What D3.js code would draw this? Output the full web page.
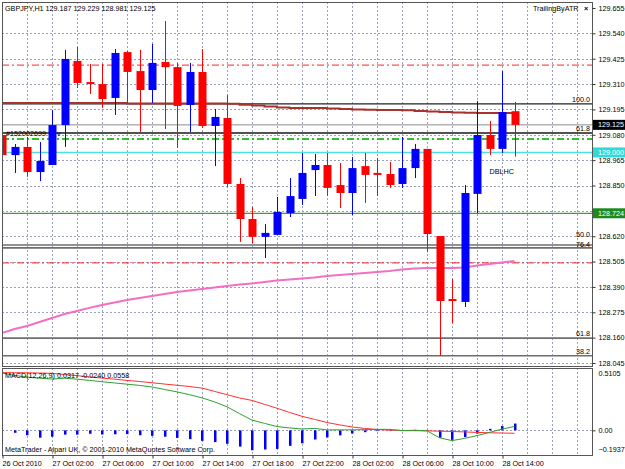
<!DOCTYPE html>
<html>
<head>
<meta charset="utf-8">
<script src="https://cdn.jsdelivr.net/npm/d3@7"></script>
<style>
  html, body { margin: 0; padding: 0; background: #fff; }
  svg text { font-family: "Liberation Sans", Arial, sans-serif; font-size: 7.2px; fill: #000; }
</style>
</head>
<body>
<svg id="chart" width="625" height="469"></svg>
<script>
// Chart data
const symbolTitle = "GBPJPY,H1";
const lastOHLC = ["129.187", "129.229", "128.981", "129.125"];

const opens = [129.079, 128.988, 129.025, 128.911, 128.943, 129.124, 129.415, 129.319, 129.310, 129.247,
  129.455, 129.369, 129.283, 129.410, 129.387, 129.215, 129.365, 129.120, 129.156, 128.857,
  128.698, 128.617, 128.626, 128.725, 128.789, 128.920, 128.943, 128.852, 128.816, 128.938,
  128.907, 128.902, 128.857, 128.929, 129.016, 128.621, 128.335, 128.322, 128.812, 129.079,
  129.016, 129.187];
const highs = [129.082, 129.038, 129.070, 129.047, 129.192, 129.465, 129.478, 129.401, 129.401, 129.469,
  129.460, 129.465, 129.492, 129.596, 129.406, 129.406, 129.469, 129.197, 129.260, 128.884,
  128.753, 128.675, 128.798, 128.884, 128.997, 128.993, 128.997, 128.952, 128.979, 128.997,
  128.975, 128.957, 129.070, 129.038, 129.016, 128.621, 128.426, 128.852, 129.233, 129.143,
  129.369, 129.229];
const lows = [128.952, 128.907, 128.889, 128.870, 128.943, 129.025, 129.292, 129.265, 129.202, 129.170,
  129.224, 129.093, 129.224, 129.106, 129.020, 129.093, 129.111, 128.938, 128.843, 128.594,
  128.589, 128.521, 128.626, 128.707, 128.762, 128.802, 128.802, 128.748, 128.716, 128.771,
  128.802, 128.839, 128.839, 128.884, 128.548, 128.077, 128.226, 128.299, 128.725, 128.988,
  128.997, 128.981];
const closes = [128.988, 129.025, 128.911, 128.961, 129.124, 129.424, 129.315, 129.310, 129.242, 129.451,
  129.365, 129.283, 129.406, 129.387, 129.211, 129.365, 129.120, 129.161, 128.857, 128.698,
  128.617, 128.635, 128.730, 128.802, 128.907, 128.943, 128.839, 128.816, 128.929, 128.898,
  128.898, 128.852, 128.929, 129.016, 128.630, 128.326, 128.326, 128.816, 129.079, 129.016,
  129.183, 129.125];

// moving averages drawn on the price chart
const maSlow = [129.224, 129.224, 129.224, 129.224, 129.224, 129.224, 129.224, 129.224, 129.224, 129.224,
  129.222, 129.222, 129.222, 129.222, 129.222, 129.222, 129.222, 129.222, 129.221, 129.216,
  129.213, 129.208, 129.204, 129.202, 129.202, 129.201, 129.199, 129.197, 129.195, 129.193,
  129.192, 129.192, 129.191, 129.188, 129.186, 129.183, 129.181, 129.180, 129.179, 129.179,
  129.179, 129.179];
const maPink = [128.181, 128.199, 128.213, 128.231, 128.249, 128.267, 128.281, 128.295, 128.308, 128.319,
  128.331, 128.340, 128.349, 128.358, 128.367, 128.374, 128.381, 128.387, 128.394, 128.401,
  128.406, 128.412, 128.419, 128.424, 128.428, 128.433, 128.440, 128.444, 128.449, 128.453,
  128.458, 128.462, 128.469, 128.474, 128.476, 128.476, 128.476, 128.478, 128.487, 128.494,
  128.501, 128.508];

// MACD(12,26,9)
const macdMain = [0.470, 0.450, 0.436, 0.427, 0.420, 0.427, 0.419, 0.409, 0.398, 0.388,
  0.378, 0.368, 0.355, 0.335, 0.315, 0.292, 0.266, 0.233, 0.193, 0.137,
  0.084, 0.057, 0.031, 0.020, 0.011, 0.016, 0.004, 0.004, 0.004, 0.006,
  0.008, 0.008, -0.002, 0.001, -0.004, -0.061, -0.084, -0.066, -0.043, -0.017,
  0.010, 0.0317];
const macdSignal = [0.473, 0.472, 0.471, 0.469, 0.467, 0.457, 0.448, 0.438, 0.428, 0.419,
  0.409, 0.400, 0.390, 0.379, 0.369, 0.359, 0.346, 0.319, 0.292, 0.265,
  0.245, 0.213, 0.181, 0.147, 0.115, 0.090, 0.064, 0.045, 0.028, 0.016,
  0.007, 0.002, -0.002, -0.003, -0.004, -0.007, -0.009, -0.013, -0.017, -0.020,
  -0.022, -0.024];
const macdHist = [-0.003, -0.020, -0.040, -0.060, -0.052, -0.035, -0.035, -0.028, -0.034, -0.032,
  -0.031, -0.040, -0.045, -0.052, -0.062, -0.072, -0.086, -0.096, -0.110, -0.133,
  -0.163, -0.157, -0.152, -0.127, -0.106, -0.075, -0.058, -0.041, -0.026, -0.015,
  -0.006, -0.003, 0.000, 0.004, -0.003, -0.060, -0.078, -0.055, -0.026, 0.012,
  0.035, 0.0558];
const macdLegend = "MACD(12,26,9) 0.0317 -0.0240 0.0558";

// axes
const priceTicks = [129.655, 129.540, 129.425, 129.310, 129.195, 129.080, 128.965, 128.850,
  128.735, 128.620, 128.505, 128.390, 128.275, 128.160, 128.045];
const hiddenTickLabels = [128.735];   // covered by the 128.724 price box in the reference
const macdTicks = [0.5105, 0, -0.1937];
const timeTickBars = [0, 4, 8, 12, 16, 20, 24, 28, 32, 36, 40];
const timeLabels = ["26 Oct 2010", "27 Oct 02:00", "27 Oct 06:00", "27 Oct 10:00", "27 Oct 14:00",
  "27 Oct 18:00", "27 Oct 22:00", "28 Oct 02:00", "28 Oct 06:00", "28 Oct 10:00", "28 Oct 14:00"];

// horizontal objects on the chart
const fiboPrices = [129.220, 129.088, 128.580, 128.567, 128.158, 128.078];
const fiboLabels = ["100.0", "61.8", "50.0", "76.4", "61.8", "38.2"];
const redLevels = [129.396, 128.499];
const bidPrice = 129.125;
const orderPrice = 129.088;
const orderLabel = "#152002699";
const stopPrice = 129.061;
const cyanPrice = 129.000;
const greenPrice = 128.724;
const noteText = "DBLHC";
const notePos = [39, 128.900];   // bar, price
const indicatorName = "TrailingByATR";
const copyrightText = "MetaTrader - Alpari UK, \u00a9 2001-2010 MetaQuotes Software Corp.";

(function() {
    const svg = d3.select("#chart");

    const left = 2, right = 592;
    const mainTop = 2, mainBottom = 366;
    const macdTop = 368, macdBottom = 455;

    const x = d3.scaleLinear().domain([0, 46]).range([2, 577]);
    const y = d3.scaleLinear().domain([128.045, 129.655]).range([363, 8]);
    const ym = d3.scaleLinear().domain([-0.1937, 0.5105]).range([454, 368]);

    const gridColor = "#9aa0b8";

    // clip paths for each panel
    const defs = svg.append("defs");
    defs.append("clipPath").attr("id", "clipMain")
        .append("rect").attr("x", left).attr("y", mainTop).attr("width", right - left).attr("height", mainBottom - mainTop);
    defs.append("clipPath").attr("id", "clipMacd")
        .append("rect").attr("x", left).attr("y", macdTop).attr("width", right - left).attr("height", macdBottom - macdTop);

    const main = svg.append("g").attr("clip-path", "url(#clipMain)");
    const macd = svg.append("g").attr("clip-path", "url(#clipMacd)");

    // grid
    const gridBars = d3.range(2, 47, 2);
    main.selectAll("line.vg").data(gridBars).join("line")
        .attr("x1", d => Math.round(x(d)) + 0.5).attr("x2", d => Math.round(x(d)) + 0.5)
        .attr("y1", mainTop).attr("y2", mainBottom)
        .attr("stroke", gridColor).attr("stroke-dasharray", "2,2");
    main.selectAll("line.hg").data(priceTicks.slice(1)).join("line")
        .attr("x1", left).attr("x2", right)
        .attr("y1", d => Math.round(y(d)) + 0.5).attr("y2", d => Math.round(y(d)) + 0.5)
        .attr("stroke", gridColor).attr("stroke-dasharray", "2,2");
    macd.selectAll("line.vg").data(gridBars).join("line")
        .attr("x1", d => Math.round(x(d)) + 0.5).attr("x2", d => Math.round(x(d)) + 0.5)
        .attr("y1", macdTop).attr("y2", macdBottom)
        .attr("stroke", gridColor).attr("stroke-dasharray", "2,2");
    macd.append("line")
        .attr("x1", left).attr("x2", right)
        .attr("y1", Math.round(ym(0)) + 0.5).attr("y2", Math.round(ym(0)) + 0.5)
        .attr("stroke", gridColor).attr("stroke-dasharray", "2,2");

    // horizontal objects
    const hline = (p, color, width, dash) => {
        const l = main.append("line")
            .attr("x1", left).attr("x2", right)
            .attr("y1", y(p)).attr("y2", y(p))
            .attr("stroke", color).attr("stroke-width", width);
        if (dash) l.attr("stroke-dasharray", dash);
        return l;
    };
    redLevels.forEach(p => hline(p, "#ff2020", 1, "7,3,2,3"));
    fiboPrices.forEach((p, i) => hline(p, i === 0 ? "#222" : "#6e6e6e", i === 0 ? 1.2 : 1.6));
    hline(bidPrice, "#8c8c8c", 1);
    hline(orderPrice, "#3c3c3c", 1.4);
    hline(stopPrice, "#30c030", 2, "7,3,2,3");
    hline(cyanPrice, "#50e0e0", 1.4);
    hline(greenPrice, "#40a040", 1.2);

    // moving averages
    const maLine = d3.line().x((d, i) => x(i)).y(d => y(d));
    main.append("path").datum(maPink).attr("d", maLine)
        .attr("fill", "none").attr("stroke", "#f46ec4").attr("stroke-width", 2);
    main.append("path").datum(maSlow).attr("d", maLine.curve(d3.curveStepAfter))
        .attr("fill", "none").attr("stroke", "#a8322c").attr("stroke-width", 2);

    // candles
    const bars = d3.range(opens.length);
    const col = i => closes[i] >= opens[i] ? "#0000ff" : "#ff0000";
    main.selectAll("line.wick").data(bars).join("line")
        .attr("x1", i => Math.round(x(i)) + 0.5).attr("x2", i => Math.round(x(i)) + 0.5)
        .attr("y1", i => y(highs[i])).attr("y2", i => y(lows[i]))
        .attr("stroke", col).attr("stroke-width", 1);
    main.selectAll("rect.body").data(bars).join("rect")
        .attr("x", i => Math.round(x(i)) - 3.5).attr("width", 8)
        .attr("y", i => y(Math.max(opens[i], closes[i])))
        .attr("height", i => Math.max(1, Math.abs(y(opens[i]) - y(closes[i]))))
        .attr("fill", col);

    // fibo labels (the 50.0 / 76.4 pair sits very close, so they are stacked)
    main.selectAll("text.fibo").data(fiboPrices).join("text")
        .attr("x", right - 2)
        .attr("y", (d, i) => fiboLabels[i] === "50.0" ? y(d) - 8.5 : (fiboLabels[i] === "76.4" ? y(d) - 0.8 : y(d) - 2))
        .attr("font-size", (d, i) => (fiboLabels[i] === "50.0" || fiboLabels[i] === "76.4") ? "6px" : null)
        .attr("text-anchor", "end").text((d, i) => fiboLabels[i]);

    // order label
    main.append("text").attr("x", 6).attr("y", y(orderPrice) + 2.5).text(orderLabel);
    main.append("text").attr("x", 57).attr("y", y(orderPrice) + 2.5).text("v");

    // note text
    main.append("text").attr("x", x(notePos[0])).attr("y", y(notePos[1]))
        .attr("font-size", "7.5px").text(noteText);

    // header
    svg.append("text").attr("x", 5).attr("y", 10.5)
        .text(symbolTitle + "  " + lastOHLC.join(" "));
    svg.append("text").attr("x", 533).attr("y", 11).text(indicatorName);
    svg.append("text").attr("x", 584).attr("y", 11).attr("font-weight", "bold").text("\u00d7");

    // MACD
    macd.selectAll("rect.hist").data(bars).join("rect")
        .attr("x", i => Math.round(x(i)) - 1).attr("width", 2.5)
        .attr("y", i => Math.min(ym(0), ym(macdHist[i])))
        .attr("height", i => Math.max(0.6, Math.abs(ym(macdHist[i]) - ym(0))))
        .attr("fill", "#0000ff");
    const macdLine = d3.line().x((d, i) => x(i)).y(d => ym(d));
    macd.append("path").datum(macdSignal).attr("d", macdLine)
        .attr("fill", "none").attr("stroke", "#ff3030").attr("stroke-width", 1);
    macd.append("path").datum(macdMain).attr("d", macdLine)
        .attr("fill", "none").attr("stroke", "#30a030").attr("stroke-width", 1);
    svg.append("text").attr("x", 5).attr("y", 378).text(macdLegend);
    svg.append("text").attr("x", 5).attr("y", 452).text(copyrightText);

    // frames
    svg.append("rect").attr("x", left + 0.5).attr("y", mainTop + 0.5)
        .attr("width", right - left).attr("height", mainBottom - mainTop)
        .attr("fill", "none").attr("stroke", "#555");
    svg.append("rect").attr("x", left + 0.5).attr("y", macdTop + 0.5)
        .attr("width", right - left).attr("height", macdBottom - macdTop)
        .attr("fill", "none").attr("stroke", "#555");

    // right price axis
    const yAxis = svg.append("g").attr("transform", "translate(" + (right + 0.5) + ",0)")
        .call(d3.axisRight(y).tickValues(priceTicks)
            .tickFormat(d => hiddenTickLabels.includes(d) ? "" : d3.format(".3f")(d))
            .tickSize(3).tickPadding(3));
    yAxis.select(".domain").remove();
    yAxis.selectAll("text").attr("font-size", null).attr("font-family", null).attr("dy", "0.32em");
    yAxis.selectAll("line").attr("stroke", "#333");

    // price boxes on the axis
    const priceBox = (p, bg, fg) => {
        const g = svg.append("g").attr("transform", "translate(" + (right + 1) + "," + y(p) + ")");
        g.append("rect").attr("x", 0).attr("y", -5).attr("width", 33).attr("height", 10).attr("fill", bg);
        g.append("text").attr("x", 5).attr("y", 2.5).style("fill", fg).text(d3.format(".3f")(p));
    };
    priceBox(cyanPrice, "#30d8d8", "#fff");
    priceBox(greenPrice, "#1e8a1e", "#fff");
    priceBox(bidPrice, "#000", "#fff");

    // right MACD axis
    const mAxis = svg.append("g").attr("transform", "translate(" + (right + 0.5) + ",0)")
        .call(d3.axisRight(ym).tickValues(macdTicks)
            .tickFormat(d => d === 0 ? "0.00" : d3.format(".4f")(d)).tickSize(3).tickPadding(3));
    mAxis.select(".domain").remove();
    mAxis.selectAll("line").attr("stroke", "#333");
    mAxis.selectAll("text").attr("font-size", null).attr("font-family", null)
        .attr("dy", (d, i) => i === 0 ? "1.1em" : (i === 2 ? "-0.4em" : "0.32em"));
    mAxis.selectAll(".tick").filter(d => d !== 0).select("line").remove();

    // bottom time axis
    const tAxis = svg.append("g").attr("transform", "translate(0," + (macdBottom + 0.5) + ")")
        .call(d3.axisBottom(x).tickValues(timeTickBars)
            .tickFormat((d, i) => timeLabels[i]).tickSize(3));
    tAxis.select(".domain").remove();
    tAxis.selectAll("line").attr("stroke", "#333").attr("transform", "translate(0.5,0)");
    tAxis.selectAll("text").attr("font-size", null).attr("font-family", null)
        .attr("text-anchor", "start").attr("x", 0).attr("y", 5).attr("dy", "0.71em");
})();
</script>
</body>
</html>
